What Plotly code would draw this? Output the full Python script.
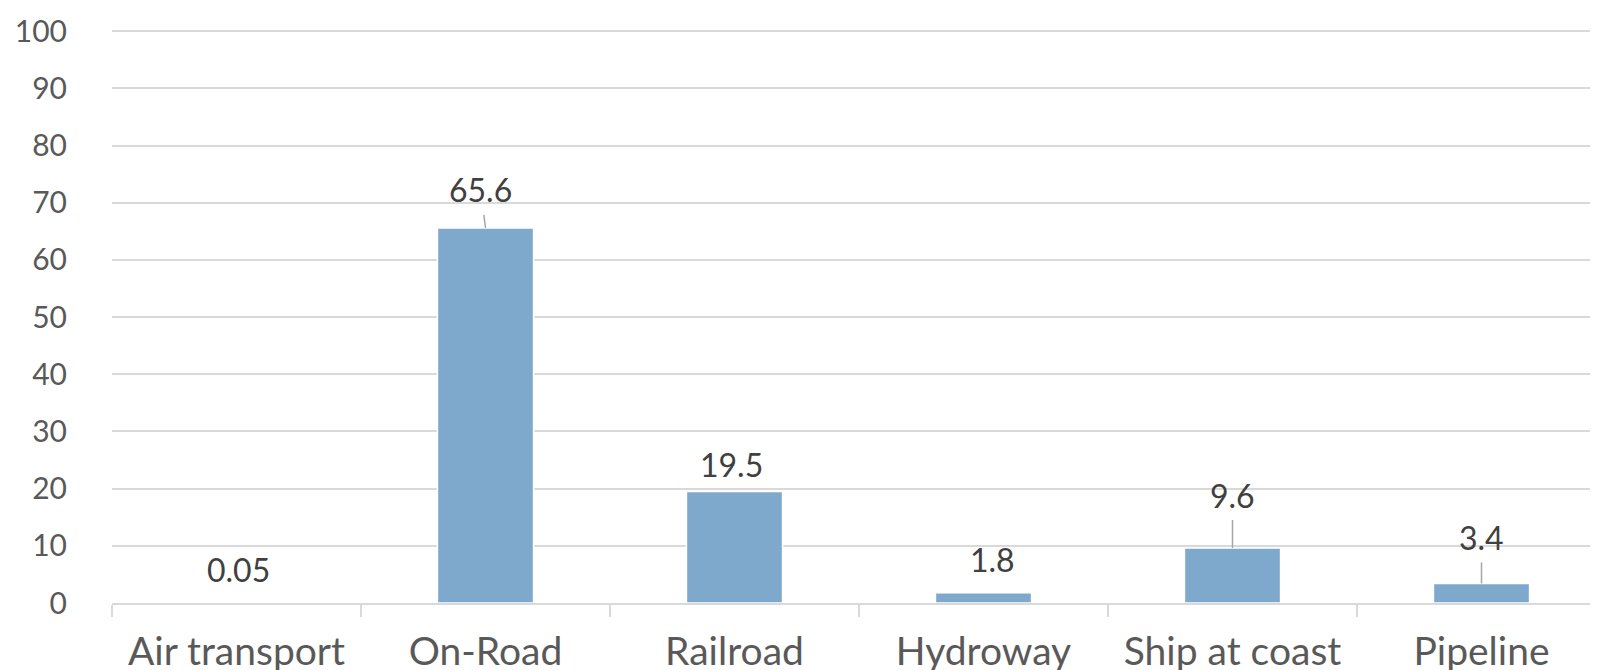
import plotly.graph_objects as go

categories = ["Air transport", "On-Road", "Railroad", "Hydroway", "Ship at coast", "Pipeline"]
values = [0.05, 65.6, 19.5, 1.8, 9.6, 3.4]
label_texts = ["0.05", "65.6", "19.5", "1.8", "9.6", "3.4"]
y_ticks = [0, 10, 20, 30, 40, 50, 60, 70, 80, 90, 100]

# label placement (pixel offsets) and whether a leader line is shown
label_dx = [2, -5, -3, 9, 0, 0]
label_dy = [-33, -38, -27, -33, -53, -46]
leader = [False, True, False, False, True, True]

BAR = "#7FA9CC"
GRID = "#D9D9D9"
FONT = "Lato, 'Open Sans', sans-serif"
FS_TICK = 30
FS_LABEL = 32
FS_CAT = 39

fig = go.Figure(go.Bar(
    x=categories, y=values,
    marker=dict(color=BAR, line=dict(color="white", width=1.5)),
    width=0.386,
    hoverinfo="skip",
))

for c, v, t, dx, dy, ld in zip(categories, values, label_texts, label_dx, label_dy, leader):
    fig.add_annotation(
        x=c, y=v, text=t, showarrow=True, ax=dx, ay=dy,
        arrowhead=0, arrowwidth=1.5,
        arrowcolor="#A6A6A6" if ld else "rgba(0,0,0,0)",
        startstandoff=4, standoff=0,
        font=dict(family=FONT, size=FS_LABEL, color="#404040"),
    )

fig.update_layout(
    width=1598, height=670,
    margin=dict(l=104, r=0, t=21, b=75),
    paper_bgcolor="white", plot_bgcolor="white",
    showlegend=False,
    font=dict(family=FONT, size=FS_TICK, color="#595959"),
)
fig.update_yaxes(
    range=[0, 100.4], tickvals=y_ticks, showgrid=True, gridcolor=GRID, gridwidth=2,
    zeroline=False, showline=False, ticks="", ticklen=0, ticklabelstandoff=44,
    ticklabeloverflow="allow", automargin=False,
    tickfont=dict(family=FONT, size=FS_TICK, color="#595959"),
)
fig.update_xaxes(
    showline=True, linecolor=GRID, linewidth=2,
    ticks="outside", tickson="boundaries", ticklen=12, tickcolor=GRID, tickwidth=2,
    ticklabelstandoff=13, ticklabeloverflow="allow", automargin=False,
    tickfont=dict(family=FONT, size=FS_CAT, color="#595959"),
)

fig.write_html("out.html")
